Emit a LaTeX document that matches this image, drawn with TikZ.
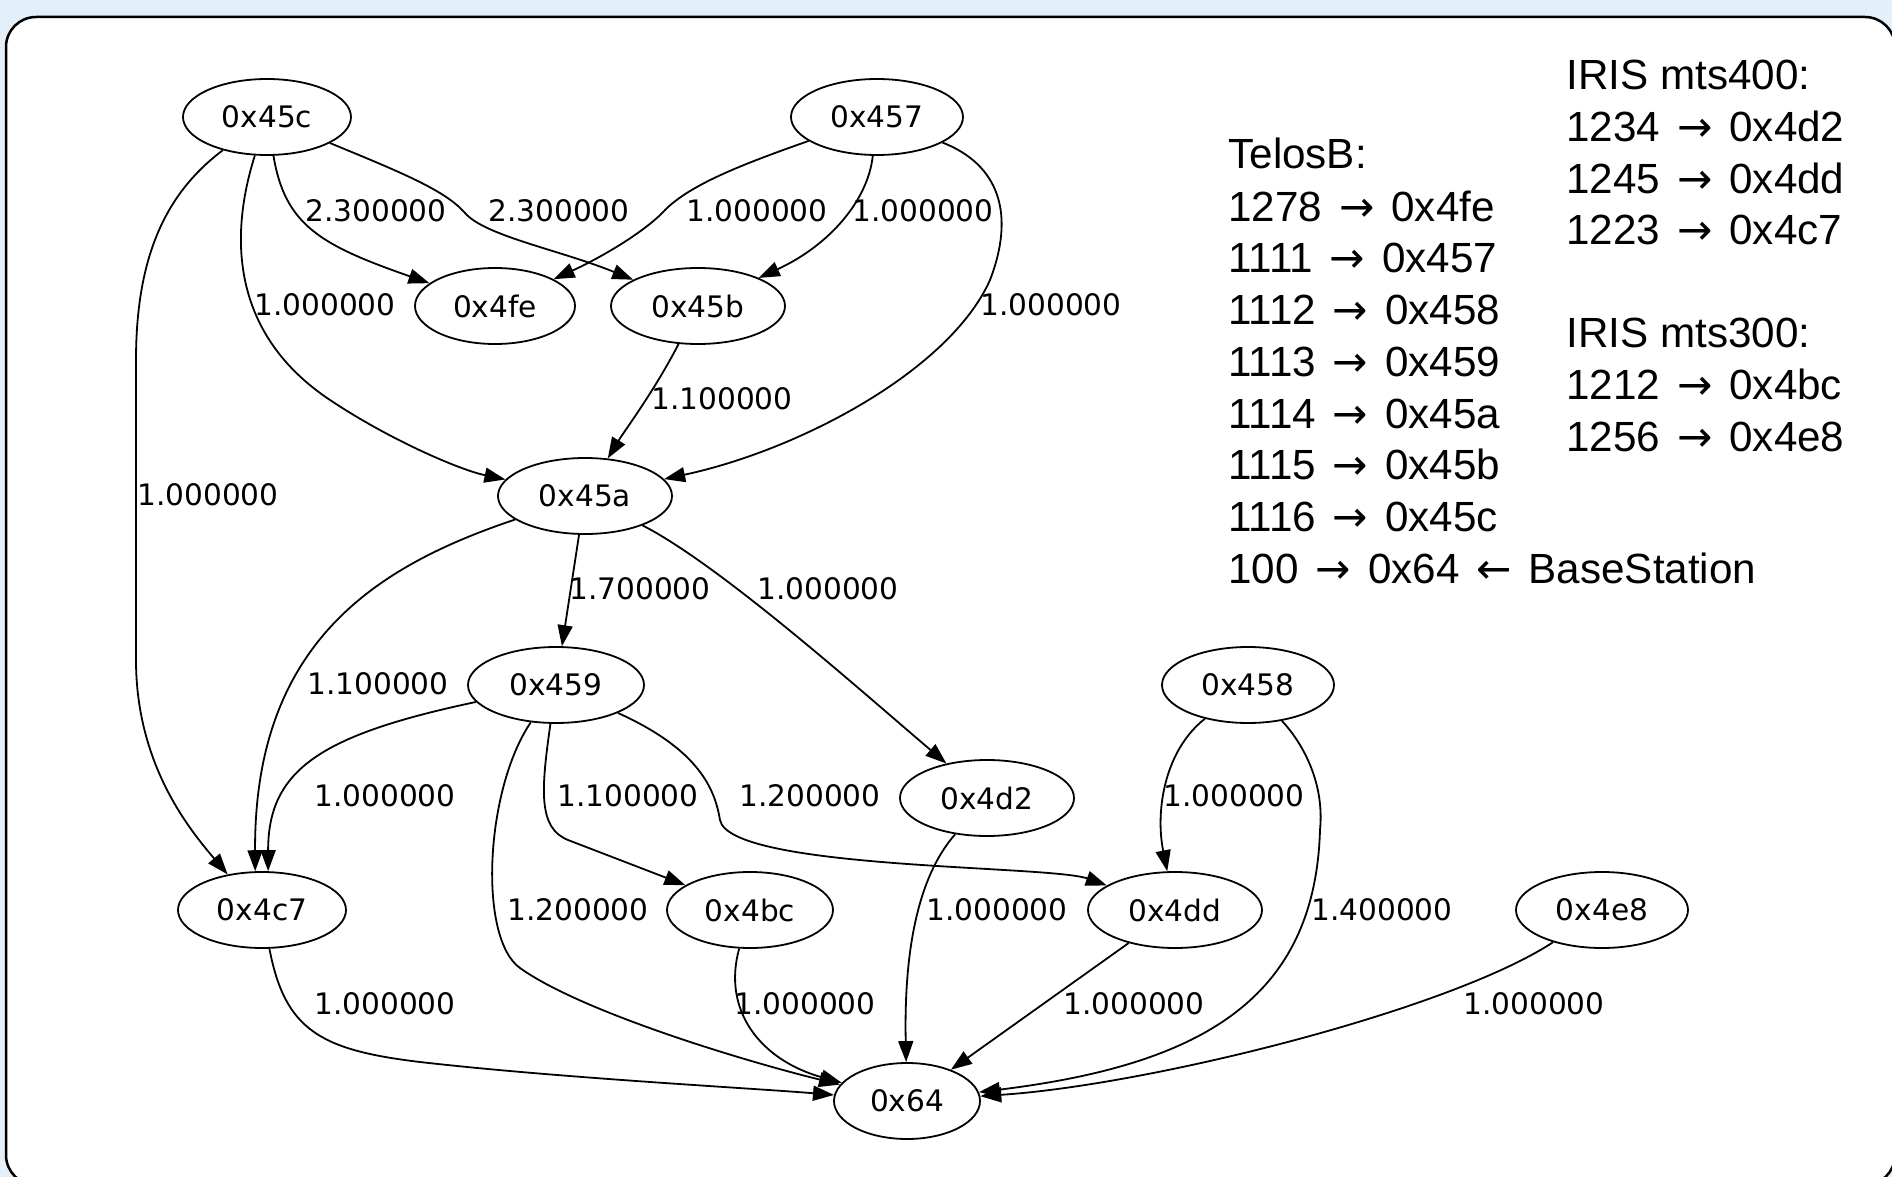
\documentclass[tikz,border=0pt]{standalone}
\usepackage{fontspec}
\setmainfont{DejaVu Sans}
\newfontfamily\graphfont{DejaVu Sans}
\newfontfamily\notefont{Liberation Sans}
\newfontfamily\arrowfont{DejaVu Sans}
\newcommand{\rarr}{\hspace{2.6pt}{\arrowfont →}\hspace{2.6pt}}
\newcommand{\larr}{\hspace{2.6pt}{\arrowfont ←}\hspace{2.6pt}}
\usetikzlibrary{shapes.geometric,arrows.meta}
\definecolor{bgblue}{HTML}{E3EFF9}
\begin{document}
\begin{tikzpicture}[x=0.5pt,y=-0.5pt,
  gnode/.style={draw, ellipse, line width=0.9pt, inner sep=0pt, minimum height=38pt,
    font=\graphfont\fontsize{14.8}{17}\selectfont},
  elabel/.style={inner sep=0pt, font=\graphfont\fontsize{14.8}{17}\selectfont},
  conn/.style={draw, line width=0.9pt, -{Triangle[length=10.5pt,width=7.5pt]}},
  note/.style={anchor=base west, inner sep=0pt, font=\notefont\fontsize{21.1}{26}\selectfont}
]
\useasboundingbox (0,0) rectangle (1892,1177);
\fill[bgblue] (0,0) rectangle (1892,1177);
\begin{scope}
\clip (0,0) rectangle (1892,1177);
\draw[fill=white, line width=1.25pt, rounded corners=15pt] (6,17) rectangle (1895,1185);
\end{scope}

% nodes
\node[gnode, minimum width=84pt] (n45c) at (267,117) {0x45c};
\node[gnode, minimum width=86pt] (n457) at (877,117) {0x457};
\node[gnode, minimum width=80pt] (n4fe) at (495,306) {0x4fe};
\node[gnode, minimum width=87pt] (n45b) at (698,306) {0x45b};
\node[gnode, minimum width=87pt] (n45a) at (585,496) {0x45a};
\node[gnode, minimum width=88pt] (n459) at (556,685) {0x459};
\node[gnode, minimum width=87pt] (n4d2) at (987,798) {0x4d2};
\node[gnode, minimum width=86pt] (n458) at (1248,685) {0x458};
\node[gnode, minimum width=84pt] (n4c7) at (262,910) {0x4c7};
\node[gnode, minimum width=83pt] (n4bc) at (750,910) {0x4bc};
\node[gnode, minimum width=87pt] (n4dd) at (1175,910) {0x4dd};
\node[gnode, minimum width=86pt] (n4e8) at (1602,910) {0x4e8};
\node[gnode, minimum width=73pt] (n64) at (907,1101) {0x64};

% edges
\path[conn] (n45c) .. controls (285,225) and (320,245) .. (n4fe);
\path[conn] (n45c) .. controls (400,172) and (445,190) .. (465,213) .. controls (485,236) and (560,250) .. (n45b);
\path[conn] (n45c) .. controls (225,250) and (240,340) .. (330,400) .. controls (390,440) and (460,470) .. (n45a);
\path[conn] (n45c) .. controls (170,190) and (136,250) .. (136,360) -- (136,660) .. controls (136,765) and (190,830) .. (n4c7.134);
\path[conn] (n457) .. controls (740,165) and (690,185) .. (665,210) .. controls (645,232) and (600,258) .. (n4fe);
\path[conn] (n457) .. controls (868,200) and (830,245) .. (n45b);
\path[conn] (n457) .. controls (1000,165) and (1015,215) .. (990,280) .. controls (950,370) and (800,450) .. (n45a);
\path[conn] (n45b) .. controls (655,390) and (625,430) .. (n45a);
\path[conn] (n45a) -- (n459);
\path[conn] (n45a) .. controls (720,565) and (860,690) .. (n4d2);
\path[conn] (n45a) .. controls (380,565) and (254,640) .. (n4c7.100);
\path[conn] (n459) .. controls (320,735) and (268,770) .. (n4c7.81);
\path[conn] (n459) .. controls (541,790) and (538,828) .. (568,840) -- (n4bc);
\path[conn] (n459) .. controls (700,750) and (715,790) .. (720,820) .. controls (730,870) and (1050,865) .. (n4dd);
\path[conn] (n459) .. controls (485,790) and (478,938) .. (520,968) .. controls (580,1011) and (740,1060) .. (n64);
\path[conn] (n4d2) .. controls (915,880) and (904,960) .. (n64);
\path[conn] (n458) .. controls (1165,750) and (1155,810) .. (n4dd);
\path[conn] (n458) .. controls (1300,740) and (1325,780) .. (1320,830) .. controls (1315,1000) and (1200,1065) .. (n64);
\path[conn] (n4c7) .. controls (285,1030) and (320,1050) .. (420,1062) .. controls (560,1078) and (750,1088) .. (n64);
\path[conn] (n4bc) .. controls (722,1010) and (760,1060) .. (n64);
\path[conn] (n4dd) -- (n64);
\path[conn] (n4e8) .. controls (1450,1010) and (1150,1085) .. (n64);

% edge labels
\node[elabel] (l1) at (376,211) {2.300000};
\node[elabel] (l2) at (559,211) {2.300000};
\node[elabel] (l3) at (325,305) {1.000000};
\node[elabel] (l4) at (208,495) {1.000000};
\node[elabel] (l5) at (757,211) {1.000000};
\node[elabel] (l6) at (923,211) {1.000000};
\node[elabel] (l7) at (1051,305) {1.000000};
\node[elabel] (l8) at (722,399) {1.100000};
\node[elabel] (l9) at (640,589) {1.700000};
\node[elabel] (l10) at (828,589) {1.000000};
\node[elabel] (l11) at (378,684) {1.100000};
\node[elabel] (l12) at (385,796) {1.000000};
\node[elabel] (l13) at (628,796) {1.100000};
\node[elabel] (l14) at (810,796) {1.200000};
\node[elabel] (l15) at (578,910) {1.200000};
\node[elabel] (l16) at (997,910) {1.000000};
\node[elabel] (l17) at (1234,796) {1.000000};
\node[elabel] (l18) at (1382,910) {1.400000};
\node[elabel] (l19) at (385,1004) {1.000000};
\node[elabel] (l20) at (805,1004) {1.000000};
\node[elabel] (l21) at (1134,1004) {1.000000};
\node[elabel] (l22) at (1534,1004) {1.000000};

% legend text
\node[note] (t0) at (1228,169) {TelosB:};
\node[note] (t1) at (1228,221) {1278 \rarr{} 0x4fe};
\node[note] (t2) at (1228,272.5) {1111 \rarr{} 0x457};
\node[note] (t3) at (1228,324) {1112 \rarr{} 0x458};
\node[note] (t4) at (1228,376) {1113 \rarr{} 0x459};
\node[note] (t5) at (1228,428) {1114 \rarr{} 0x45a};
\node[note] (t6) at (1228,479.5) {1115 \rarr{} 0x45b};
\node[note] (t7) at (1228,531) {1116 \rarr{} 0x45c};
\node[note] (t8) at (1228,583) {100 \rarr{} 0x64 \larr{} BaseStation};
\node[note] (i0) at (1566,90) {IRIS mts400:};
\node[note] (i1) at (1566,141) {1234 \rarr{} 0x4d2};
\node[note] (i2) at (1566,193) {1245 \rarr{} 0x4dd};
\node[note] (i3) at (1566,244) {1223 \rarr{} 0x4c7};
\node[note] (j0) at (1566,347) {IRIS mts300:};
\node[note] (j1) at (1566,399) {1212 \rarr{} 0x4bc};
\node[note] (j2) at (1566,451) {1256 \rarr{} 0x4e8};
\end{tikzpicture}
\end{document}
